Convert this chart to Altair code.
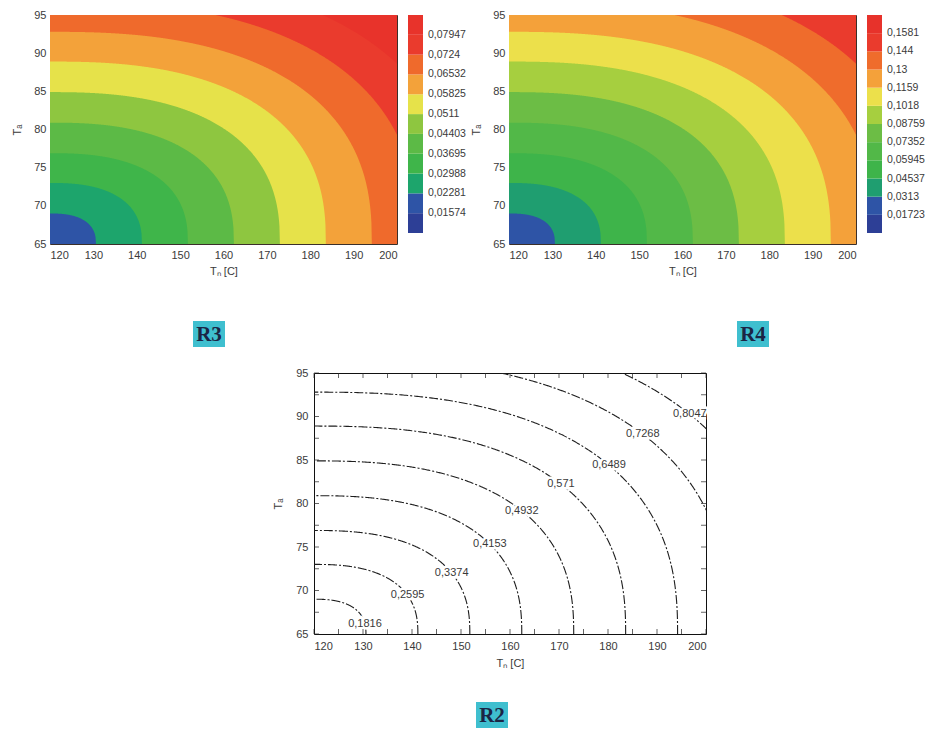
import altair as alt
import numpy as np
import pandas as pd

# ---- shared geometry of the response surfaces --------------------------------
# Where each iso-level k = 1..9 meets the bottom edge (T_a = 65) and the left edge (T_n = 120)
LEVEL_BASE_X = [130.6, 141.2, 151.8, 162.4, 173.0, 183.6, 194.2, 204.8, 215.4]
LEVEL_LEFT_Y = [69.0, 73.0, 76.9, 80.9, 84.9, 88.9, 92.8, 96.8, 100.7]
SHAPE_EXP = 2.5          # superellipse exponent of the iso-lines

X_DOMAIN = [120, 200]
Y_DOMAIN = [65, 95]
X_TICKS = [120, 130, 140, 150, 160, 170, 180, 190, 200]
Y_TICKS = [65, 70, 75, 80, 85, 90, 95]

# ---- R3: filled contour legend ------------------------------------------------
R3_LABELS = [0.01574, 0.02281, 0.02988, 0.03695, 0.04403, 0.0511,
             0.05825, 0.06532, 0.0724, 0.07947]
R3_COLORS = ["#2d3f96", "#2e54a6", "#1da56c", "#3fb54a", "#5cba46", "#8ec640",
             "#e6e24a", "#f3a23a", "#ef6a2c", "#ea3b2d", "#e8332b"]

# ---- R4: filled contour legend ------------------------------------------------
R4_LABELS = [0.01723, 0.0313, 0.04537, 0.05945, 0.07352, 0.08759,
             0.1018, 0.1159, 0.13, 0.144, 0.1581]
R4_COLORS = ["#2d3f96", "#2e54a6", "#1f9e70", "#3eb44a", "#52b848", "#6cbd45",
             "#a6cf3f", "#ece04b", "#f4a13a", "#ef6c2c", "#ea3b2d", "#e7322b"]

# ---- R2: iso-lines with in-line labels ----------------------------------------
R2_LEVELS = [0.1816, 0.2595, 0.3374, 0.4153, 0.4932, 0.571, 0.6489, 0.7268, 0.8047]
R2_LABEL_X = [130.4, 139.1, 148.1, 155.9, 162.4, 170.4, 180.2, 187.1, 196.7]

FONT = "Liberation Sans"
TXT = "#3a3a3a"
X_TITLE = "T\u2099  [C]"
Y_TITLE = "T\u2090"

MAP_W, MAP_H = 347, 229
BAR_W, BAR_H = 15, 218
R2_W, R2_H = 392, 261


def level_y(k, x):
    """Height of iso-level k at T_n = x (65 where the level already passed the base)."""
    a = LEVEL_BASE_X[k] - X_DOMAIN[0]
    b = LEVEL_LEFT_Y[k] - Y_DOMAIN[0]
    u = np.clip((np.asarray(x, dtype=float) - X_DOMAIN[0]) / a, 0.0, 1.0)
    return Y_DOMAIN[0] + b * (1.0 - u ** SHAPE_EXP) ** (1.0 / SHAPE_EXP)


def x_scale():
    return alt.Scale(domain=X_DOMAIN, nice=False, zero=False)


def y_scale():
    return alt.Scale(domain=Y_DOMAIN, nice=False, zero=False)


def tag(label, cx, cy):
    """Cyan caption box drawn below a panel (pixel offsets from the plot origin)."""
    d = pd.DataFrame({"t": [label]})
    box = alt.Chart(d).mark_rect(color="#3fbfcf").encode(
        x=alt.value(cx - 16), x2=alt.value(cx + 16),
        y=alt.value(cy - 13), y2=alt.value(cy + 13))
    txt = alt.Chart(d).mark_text(font="Liberation Serif", fontWeight="bold", fontSize=21,
                                 color="#1b2545", baseline="middle").encode(
        x=alt.value(cx), y=alt.value(cy + 1), text="t:N")
    return [box, txt]


def filled_map(colors, tag_label, tag_cx):
    xs = np.unique(np.concatenate([np.linspace(120, 200, 801),
                                   [v for v in LEVEL_BASE_X if v <= 200]]))
    layers = []
    for k in range(10):                      # region where the level index >= k
        lo = np.full_like(xs, 65.0) if k == 0 else np.clip(level_y(k - 1, xs), 65, 95)
        keep = lo < 95
        df = pd.DataFrame({"x": np.round(xs[keep], 3), "lo": np.round(lo[keep], 3),
                           "hi": 95.0})
        layers.append(alt.Chart(df).mark_area(interpolate="linear", clip=True,
                                             color=colors[k + 1]).encode(
            x=alt.X("x:Q", scale=x_scale(),
                    axis=alt.Axis(values=X_TICKS, title=X_TITLE, ticks=False, domain=False,
                                  labelPadding=5, titlePadding=5, grid=False)),
            y=alt.Y("lo:Q", scale=y_scale(), stack=None,
                    axis=alt.Axis(values=Y_TICKS, title=Y_TITLE, ticks=False, domain=False,
                                  labelPadding=4, titlePadding=11, grid=False)),
            y2="hi:Q"))
    layers += tag(tag_label, tag_cx, 319)
    return alt.layer(*layers).properties(
        width=MAP_W, height=MAP_H,
        view=alt.ViewBackground(stroke="#3b2f2a", strokeWidth=1))


def color_bar(colors, labels):
    n = len(colors)
    bands = pd.DataFrame({"lo": list(range(n)), "hi": list(range(1, n + 1)), "c": colors})
    ys = alt.Scale(domain=[0, n], nice=False, zero=False)
    rects = alt.Chart(bands).mark_rect().encode(
        x=alt.value(0), x2=alt.value(BAR_W),
        y=alt.Y("lo:Q", scale=ys, axis=None), y2="hi:Q",
        color=alt.Color("c:N", scale=None))
    labs = pd.DataFrame({"pos": list(range(1, len(labels) + 1)),
                         "txt": [str(v).replace(".", ",") for v in labels]})
    text = alt.Chart(labs).mark_text(align="left", baseline="middle", font=FONT,
                                     fontSize=10.5, color=TXT).encode(
        x=alt.value(BAR_W + 5), y=alt.Y("pos:Q", scale=ys, axis=None), text="txt:N")
    return alt.layer(rects, text).properties(
        width=BAR_W, height=BAR_H, view=alt.ViewBackground(strokeWidth=0))


def blank(w):
    return alt.Chart(pd.DataFrame({"v": [0]})).mark_point(opacity=0).encode(
        x=alt.value(0), y=alt.value(0)).properties(
        width=w, height=10, view=alt.ViewBackground(strokeWidth=0))


# ---- R2 iso-line panel ---------------------------------------------------------
t = np.linspace(0, np.pi / 2, 400)
line_rows = []
for k, lev in enumerate(R2_LEVELS):
    a = LEVEL_BASE_X[k] - X_DOMAIN[0]
    b = LEVEL_LEFT_Y[k] - Y_DOMAIN[0]
    xs = X_DOMAIN[0] + a * np.cos(t) ** (2 / SHAPE_EXP)
    ys = Y_DOMAIN[0] + b * np.sin(t) ** (2 / SHAPE_EXP)
    for i, (xv, yv) in enumerate(zip(xs, ys)):
        line_rows.append({"level": lev, "i": i, "x": round(float(xv), 3), "y": round(float(yv), 3)})
lines_df = pd.DataFrame(line_rows)

label_df = pd.DataFrame({
    "x": R2_LABEL_X,
    "y": [float(level_y(k, xv)) for k, xv in enumerate(R2_LABEL_X)],
    "txt": [str(v).replace(".", ",") for v in R2_LEVELS],
})

iso = alt.Chart(lines_df).mark_line(clip=True, color="#1e1e1e", strokeWidth=1.1,
                                    strokeDash=[9, 2, 2, 2]).encode(
    x=alt.X("x:Q", scale=x_scale(),
            axis=alt.Axis(values=X_TICKS, title=X_TITLE, ticks=False, domain=False,
                          labelPadding=6, titlePadding=6, grid=False)),
    y=alt.Y("y:Q", scale=y_scale(),
            axis=alt.Axis(values=Y_TICKS, title=Y_TITLE, ticks=False, domain=False,
                          labelPadding=6, titlePadding=12, grid=False)),
    detail="level:N", order="i:Q")

halo = alt.Chart(label_df).mark_text(font=FONT, fontSize=11, color="white", stroke="white",
                                     strokeWidth=5).encode(x="x:Q", y="y:Q", text="txt:N")
iso_text = alt.Chart(label_df).mark_text(font=FONT, fontSize=11, color=TXT).encode(
    x="x:Q", y="y:Q", text="txt:N")

minor_x = pd.DataFrame({"v": list(range(120, 201, 5))})
minor_y = pd.DataFrame({"v": [65 + 2.5 * i for i in range(13)]})
tick_bottom = alt.Chart(minor_x).mark_tick(orient="vertical", size=5, thickness=1,
                                           color="#222").encode(x="v:Q", y=alt.value(R2_H - 2.5))
tick_top = alt.Chart(minor_x).mark_tick(orient="vertical", size=5, thickness=1,
                                        color="#222").encode(x="v:Q", y=alt.value(2.5))
tick_left = alt.Chart(minor_y).mark_tick(orient="horizontal", size=5, thickness=1,
                                         color="#222").encode(y="v:Q", x=alt.value(2.5))
tick_right = alt.Chart(minor_y).mark_tick(orient="horizontal", size=5, thickness=1,
                                          color="#222").encode(y="v:Q", x=alt.value(R2_W - 2.5))

r2 = alt.layer(iso, halo, iso_text, tick_bottom, tick_top, tick_left, tick_right,
               *tag("R2", 178, 342)).properties(
    width=R2_W, height=R2_H, view=alt.ViewBackground(stroke="#111", strokeWidth=1))

# Row 1: R3 map, R3 bar, gap, R4 map, R4 bar (placed by plot area).
top = alt.hconcat(
    filled_map(R3_COLORS, "R3", 159), color_bar(R3_COLORS, R3_LABELS), blank(64),
    filled_map(R4_COLORS, "R4", 244), color_bar(R4_COLORS, R4_LABELS),
    spacing=11, bounds="flush")
# Row 2: indent, R2.
bottom = alt.hconcat(blank(264), r2, spacing=0, bounds="flush")

chart = alt.vconcat(top, bottom, spacing=18, bounds="full").properties(
    padding={"left": 11, "top": 8, "right": 0, "bottom": 0},
    background="white",
).configure_view(strokeWidth=0).configure_axis(
    labelFont=FONT, labelFontSize=11, labelColor=TXT,
    titleFont=FONT, titleFontSize=11, titleColor=TXT, titleFontWeight="normal",
)

chart.save("out.html", embed_options={"renderer": "svg", "actions": False})
